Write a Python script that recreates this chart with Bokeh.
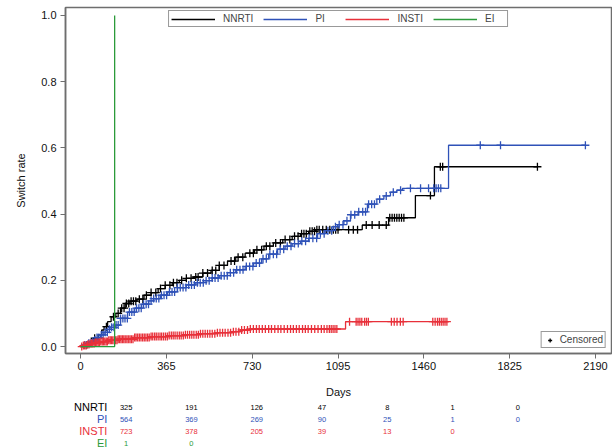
import numpy as np
from bokeh.plotting import figure
from bokeh.models import Range1d, Legend, LegendItem, NumeralTickFormatter
from bokeh.layouts import column
from bokeh.embed import file_html
from bokeh.resources import INLINE
from bokeh.core.properties import value

FONT = "Liberation Sans"

groups = ["NNRTI", "PI", "INSTI", "EI"]
colors = ["#000000", "#2f52b8", "#e8303a", "#2b9a3a"]

# Kaplan-Meier step curves (days, cumulative switch rate)
nnrti_t = [0, 20, 43, 60, 75, 90, 100, 115, 130, 150, 170, 190, 210, 240, 270, 300, 330,
           360, 390, 420, 450, 480, 520, 555, 590, 625, 660, 700, 740, 780, 820, 860, 900,
           935, 970, 1000, 1198, 1310, 1424, 1505, 1943]
nnrti_r = [0, 0.005, 0.015, 0.025, 0.035, 0.05, 0.06, 0.075, 0.09, 0.1, 0.116, 0.13, 0.137,
           0.143, 0.155, 0.163, 0.175, 0.185, 0.193, 0.2, 0.206, 0.21, 0.222, 0.23, 0.245,
           0.258, 0.27, 0.282, 0.292, 0.303, 0.313, 0.323, 0.333, 0.341, 0.348, 0.353,
           0.367, 0.389, 0.456, 0.543, 0.543]

pi_t = [0, 15, 30, 45, 55, 70, 85, 100, 115, 130, 149, 170, 200, 230, 260, 290, 310, 340,
        370, 412, 450, 490, 523, 560, 590, 625, 660, 700, 736, 770, 800, 838, 870, 900, 935,
        970, 1008, 1040, 1076, 1093, 1120, 1148, 1180, 1220, 1260, 1290, 1318, 1345, 1369,
        1565, 2147]
pi_r = [0, 0.005, 0.01, 0.015, 0.02, 0.027, 0.035, 0.043, 0.052, 0.058, 0.065, 0.085, 0.104,
        0.116, 0.128, 0.138, 0.145, 0.155, 0.165, 0.178, 0.186, 0.193, 0.199, 0.207, 0.214,
        0.223, 0.232, 0.242, 0.252, 0.265, 0.279, 0.294, 0.303, 0.311, 0.318, 0.327, 0.341,
        0.35, 0.362, 0.368, 0.38, 0.398, 0.407, 0.43, 0.445, 0.455, 0.466, 0.472, 0.478,
        0.608, 0.608]

insti_t = [0, 10, 25, 40, 60, 85, 120, 160, 225, 300, 370, 440, 510, 580, 650, 680, 720,
           1127, 1565]
insti_r = [0, 0.003, 0.006, 0.009, 0.012, 0.015, 0.019, 0.022, 0.027, 0.03, 0.033, 0.036,
           0.039, 0.042, 0.045, 0.05, 0.053, 0.075, 0.075]

ei_t = [0, 145]
ei_r = [0, 1.0]

# censoring times
nnrti_c = [60, 110, 140, 160, 175, 185, 195, 205, 215, 225, 235, 250, 265, 280, 300, 320,
           340, 360, 380, 395, 410, 430, 450, 470, 490, 500, 520, 540, 560, 575, 590, 610,
           640, 655, 670, 690, 720, 735, 750, 770, 790, 805, 830, 850, 870, 890, 910, 925,
           940, 950, 960, 975, 985, 995, 1005, 1015, 1030, 1045, 1060, 1075, 1085, 1095,
           1140, 1160, 1178, 1215, 1240, 1270, 1300, 1315, 1325, 1335, 1345, 1355, 1365,
           1375, 1488, 1530, 1540, 1943]
pi_c = [18, 26, 35, 44, 52, 61, 70, 78, 88, 96, 105, 114, 123, 132, 142, 151, 160, 170, 180,
        189, 199, 208, 218, 228, 238, 248, 258, 268, 279, 289, 300, 311, 322, 333, 344, 355,
        366, 378, 389, 400, 412, 424, 436, 448, 460, 472, 484, 497, 509, 522, 534, 547, 560,
        572, 585, 598, 611, 624, 637, 651, 664, 678, 691, 705, 719, 733, 747, 761, 776, 790,
        805, 820, 834, 849, 864, 879, 895, 910, 926, 941, 957, 972, 988, 1004, 1020, 1036,
        1052, 1068, 1084, 1100, 1116, 1133, 1150, 1166, 1183, 1200, 1212, 1225, 1238, 1250,
        1272, 1300, 1330, 1361, 1403, 1446, 1480, 1502, 1512, 1522, 1532, 1700, 1786, 2147]
insti_c = [5, 12, 18, 24, 30, 36, 41, 47, 52, 58, 63, 69, 75, 80, 86, 92, 97, 103, 109, 114,
           120, 126, 131, 137, 143, 149, 155, 160, 166, 172, 178, 184, 190, 197, 203, 210,
           216, 223, 230, 236, 243, 250, 257, 264, 271, 278, 285, 292, 300, 307, 315, 322,
           330, 338, 345, 353, 361, 369, 377, 386, 394, 402, 411, 420, 428, 437, 446, 455,
           464, 473, 482, 492, 501, 510, 520, 530, 540, 550, 560, 571, 582, 593, 604, 615,
           627, 638, 650, 661, 673, 685, 697, 710, 722, 735, 748, 760, 773, 786, 800, 812,
           826, 840, 852, 866, 880, 893, 905, 918, 930, 944, 956, 968, 982, 996, 1010, 1024,
           1036, 1048, 1058, 1066, 1074, 1082, 1090, 1144, 1172, 1180, 1188, 1196, 1208,
           1216, 1224, 1322, 1334, 1346, 1360, 1372, 1498, 1508, 1518, 1526, 1534, 1542,
           1550, 1558]

x_ticks = [0, 365, 730, 1095, 1460, 1825, 2190]
y_ticks = [0.0, 0.2, 0.4, 0.6, 0.8, 1.0]

risk_nnrti = [325, 191, 126, 47, 8, 1, 0]
risk_pi = [564, 369, 269, 90, 25, 1, 0]
risk_insti = [723, 378, 205, 39, 13, 0]
risk_ei = [1, 0]

GREY = "#6e6e6e"

p = figure(width=612, height=400, x_range=Range1d(-64, 2258), y_range=Range1d(-0.021, 1.024),
           output_backend="svg", toolbar_location=None,
           min_border_left=65, min_border_right=1, min_border_top=7, min_border_bottom=41)
p.xgrid.visible = False
p.ygrid.visible = False
p.outline_line_color = GREY
p.outline_line_width = 1.5

curves = [(nnrti_t, nnrti_r, nnrti_c), (pi_t, pi_r, pi_c), (insti_t, insti_r, insti_c),
          (ei_t, ei_r, [])]
step_r = []
cens_r = []
for (t, r, c), col in zip(curves, colors):
    sr = p.step(t, r, mode="after", line_color=col, line_width=1.3)
    step_r.append(sr)
    if c:
        ta = np.array(t)
        ra = np.array(r)
        idx = np.searchsorted(ta, np.array(c), side="right") - 1
        cr = p.scatter(c, ra[idx], marker="cross", size=8, line_color=col, line_width=1.3)
        cens_r.append(cr)

for ax in (p.xaxis[0], p.yaxis[0]):
    ax.axis_line_color = GREY
    ax.axis_line_width = 1.5
    ax.major_tick_line_color = GREY
    ax.major_tick_out = 5
    ax.major_tick_in = 0
    ax.minor_tick_line_color = None
    ax.major_label_text_font = FONT
    ax.major_label_text_font_size = "11px"
    ax.major_label_text_color = "#111111"
    ax.axis_label_text_font = FONT
    ax.axis_label_text_font_size = "11px"
    ax.axis_label_text_font_style = "normal"
    ax.axis_label_text_color = "#111111"

p.xaxis.ticker = x_ticks
p.xaxis.axis_label = "Days"
p.xaxis.major_label_standoff = 3
p.xaxis.axis_label_standoff = 13
p.yaxis.ticker = y_ticks
p.yaxis.formatter = NumeralTickFormatter(format="0.0")
p.yaxis.axis_label = "Switch rate"
p.yaxis.major_label_standoff = 4
p.yaxis.axis_label_standoff = 11

leg = Legend(items=[LegendItem(label=g, renderers=[r]) for g, r in zip(groups, step_r)],
             location="top_center", orientation="horizontal", margin=3, padding=2,
             spacing=10, glyph_width=44, glyph_height=10, label_height=10,
             label_standoff=8, label_text_font=FONT, label_text_font_size="10px",
             border_line_color="#333333", border_line_width=1,
             background_fill_alpha=1.0)
p.add_layout(leg)

leg2 = Legend(items=[LegendItem(label="Censored", renderers=[cens_r[0]])],
              location="bottom_right", orientation="horizontal", margin=5, padding=2,
              glyph_width=12, glyph_height=10, label_height=10, label_standoff=4,
              label_text_font=FONT, label_text_font_size="10px",
              border_line_color="#333333", border_line_width=1)
p.add_layout(leg2)

# Number-at-risk table
tbl = figure(width=612, height=48, x_range=Range1d(-339.2, 2713.8),
             y_range=Range1d(3.417, -0.583), output_backend="svg", toolbar_location=None,
             min_border_left=0, min_border_right=0, min_border_top=0, min_border_bottom=0,
             x_axis_type=None, y_axis_type=None)
tbl.xgrid.visible = False
tbl.ygrid.visible = False
tbl.outline_line_color = None

risks = [risk_nnrti, risk_pi, risk_insti, risk_ei]
LABEL_X = -104.8
for i, (g, rk, col) in enumerate(zip(groups, risks, colors)):
    tbl.text(x=[LABEL_X], y=[i], text=[g], text_align="right", text_baseline="middle",
             text_color=col, text_font=value(FONT), text_font_size="11px")
    tbl.text(x=x_ticks[:len(rk)], y=[i] * len(rk), text=[str(v) for v in rk],
             text_align="center", text_baseline="middle", text_color=col,
             text_font=value(FONT), text_font_size="7.5px")

layout = column(p, tbl, spacing=0)
open("out.html", "w").write(file_html(layout, INLINE))
